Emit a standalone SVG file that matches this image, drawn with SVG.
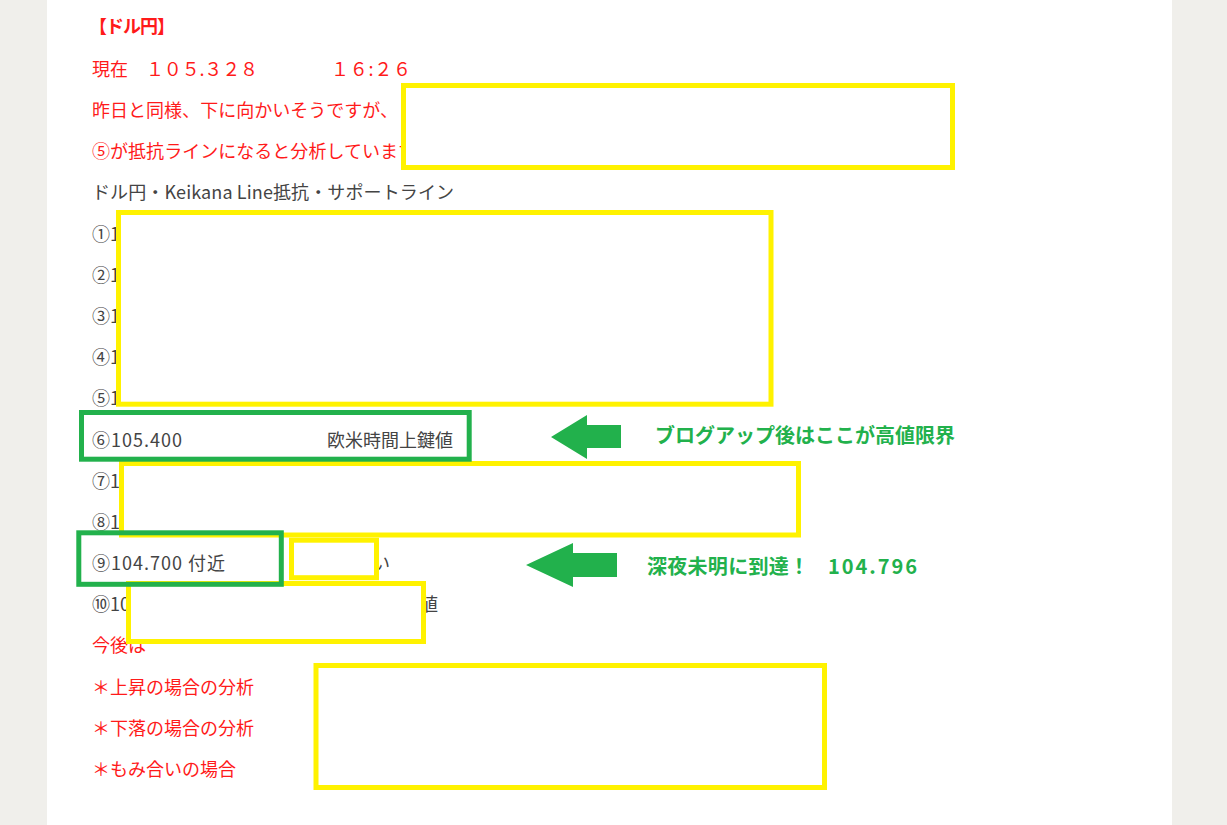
<svg xmlns="http://www.w3.org/2000/svg" width="1227" height="825" viewBox="0 0 1227 825">
<style>
text{font-family:"Noto Sans CJK JP","Noto Sans",sans-serif;font-size:18px}
.r{fill:#ff1a1a}
.g{fill:#444444}
.lbl{fill:#22b14c;font-weight:bold;font-size:20px}
.y{fill:#ffffff;stroke:#fff200;stroke-width:5}
.gb{fill:none;stroke:#22b14c;stroke-width:5}
.arr{fill:#22b14c}
</style>
<rect x="0" y="0" width="1227" height="825" fill="#f0efeb"/>
<rect x="47" y="0" width="1125" height="825" fill="#ffffff"/>
<g id="text-lines">
<text class="r" x="89" y="33" font-weight="bold" font-size="17" textLength="86">【ドル円】</text>
<text class="r" x="92" y="76">現在</text>
<text class="r" x="146" y="76" textLength="112">１０５.３２８</text>
<text class="r" x="331" y="76" textLength="80">１６:２６</text>
<text class="r" x="92" y="117" textLength="306">昨日と同様、下に向かいそうですが、</text>
<text class="r" x="92" y="158" textLength="324">⑤が抵抗ラインになると分析しています</text>
<text class="g" x="92" y="199" textLength="362">ドル円・Keikana Line抵抗・サポートライン</text>
<text class="g" x="92" y="241">①1</text>
<text class="g" x="92" y="282">②1</text>
<text class="g" x="92" y="323">③1</text>
<text class="g" x="92" y="364">④1</text>
<text class="g" x="92" y="405">⑤1</text>
<text class="g" x="92" y="447" textLength="90">⑥105.400</text>
<text class="g" x="327" y="447" textLength="126">欧米時間上鍵値</text>
<text class="g" x="92" y="488">⑦1</text>
<text class="g" x="92" y="529">⑧1</text>
<text class="g" x="92" y="570" textLength="133">⑨104.700 付近</text>
<text class="g" x="372" y="570">い</text>
<text class="g" x="92" y="611">⑩10</text>
<text class="g" x="420" y="611">値</text>
<text class="r" x="92" y="652">今後は</text>
<text class="r" x="92" y="694" textLength="162">＊上昇の場合の分析</text>
<text class="r" x="92" y="735" textLength="162">＊下落の場合の分析</text>
<text class="r" x="92" y="776" textLength="144">＊もみ合いの場合</text>
</g>
<g id="redaction-boxes">
<rect id="boxA" class="y" x="403.5" y="85.5" width="549" height="82"/>
<rect id="boxB" class="y" x="118.5" y="212.5" width="652.5" height="191.7"/>
<rect id="boxC" class="y" x="121.5" y="463.5" width="677" height="71.5"/>
<rect id="boxD" class="y" x="291.5" y="540.2" width="85" height="37.5"/>
<rect id="boxE" class="y" x="128.5" y="583.5" width="295" height="58"/>
<rect id="boxF" class="y" x="316" y="665.5" width="508.5" height="122"/>
</g>
<g id="highlight-boxes">
<rect id="hl6" class="gb" x="81.5" y="412.5" width="387.7" height="46.7"/>
<rect id="hl9" class="gb" x="78.8" y="532.8" width="202.5" height="51.5" stroke-width="5.5"/>
</g>
<g id="connectors">
<polygon class="arr" points="551,437 587,415 587,425 621,425 621,448 587,448 587,459"/>
<polygon class="arr" points="526,565 573,543 573,553 617,553 617,577 573,577 573,587"/>
</g>
<g id="label1">
<text class="lbl" x="655" y="443" textLength="300">ブログアップ後はここが高値限界</text>
</g>
<g id="label2">
<text class="lbl" y="574"><tspan x="647" textLength="162">深夜未明に到達！</tspan><tspan x="828" textLength="89">104.796</tspan></text>
</g>
</svg>
